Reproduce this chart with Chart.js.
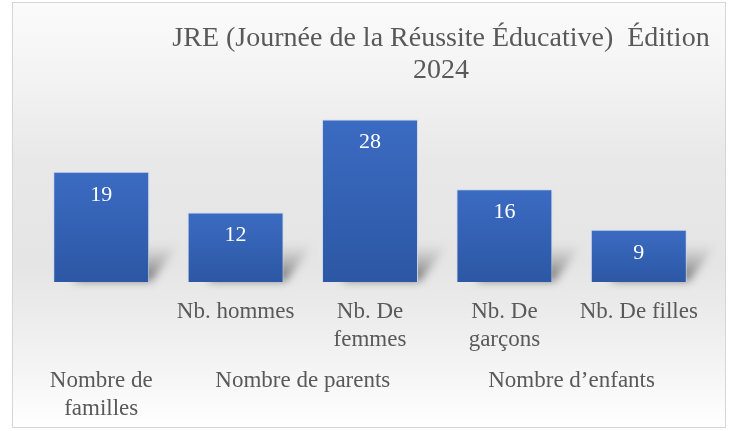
<!DOCTYPE html>
<html>
<head>
<meta charset="utf-8">
<script src="https://cdn.jsdelivr.net/npm/chart.js@4.4.1/dist/chart.umd.min.js"></script>
<style>
  html, body { margin: 0; padding: 0; background: #fff; }
  #wrap { position: relative; width: 733px; height: 431px; }
</style>
</head>
<body>
<div id="wrap"><canvas id="chart" width="733" height="431"></canvas></div>
<script>
const titleLines = ["JRE (Journée de la Réussite Éducative)  Édition", "2024"];
const categories = ["", "Nb. hommes", ["Nb. De", "femmes"], ["Nb. De", "garçons"], "Nb. De filles"];
const values = [19, 12, 28, 16, 9];
const groupLabels = [["Nombre de", "familles"], ["Nombre de parents"], ["Nombre d’enfants"]];
const groupSpans = [[0, 0], [1, 2], [3, 4]];

const SERIF = "'Liberation Serif', 'Times New Roman', serif";
const TEXT = "#595959";

function barGradient(ctx) {
  const chart = ctx.chart;
  const { ctx: c, chartArea, scales } = chart;
  if (!chartArea || ctx.dataIndex === undefined) return "#3a67bd";
  const top = scales.y.getPixelForValue(values[ctx.dataIndex]);
  const base = scales.y.getPixelForValue(0);
  const g = c.createLinearGradient(0, top, 0, base);
  g.addColorStop(0, "#3b6bc2");
  g.addColorStop(1, "#2c57a4");
  return g;
}

const backgroundPlugin = {
  id: "bg",
  beforeDraw(chart) {
    const c = chart.ctx;
    c.save();
    c.fillStyle = "#ffffff";
    c.fillRect(0, 0, chart.width, chart.height);
    const x0 = 12, y0 = 2, x1 = 726, y1 = 428;
    const g = c.createLinearGradient(0, y0, 0, y1);
    g.addColorStop(0, "#fbfbfb");
    g.addColorStop(0.12, "#f6f6f6");
    g.addColorStop(0.38, "#e8e8e8");
    g.addColorStop(0.62, "#e5e5e5");
    g.addColorStop(0.8, "#f0f0f0");
    g.addColorStop(1, "#ffffff");
    c.fillStyle = g;
    c.fillRect(x0, y0, x1 - x0, y1 - y0);
    c.strokeStyle = "#d6d6d6";
    c.lineWidth = 1;
    c.strokeRect(x0 + 0.5, y0 + 0.5, x1 - x0 - 1, y1 - y0 - 1);
    c.restore();
  }
};

// soft perspective shadow behind each bar
const shadowPlugin = {
  id: "barShadow",
  beforeDatasetsDraw(chart) {
    const c = chart.ctx;
    const meta = chart.getDatasetMeta(0);
    c.save();
    c.filter = "blur(4px)";
    meta.data.forEach((bar) => {
      const right = bar.x + bar.width / 2;
      const left = bar.x - bar.width / 2;
      const base = bar.base;
      const g = c.createLinearGradient(0, base, 0, base - 38);
      g.addColorStop(0, "rgba(50,50,50,0.7)");
      g.addColorStop(1, "rgba(120,120,120,0)");
      c.fillStyle = g;
      c.beginPath();
      c.moveTo(left + 20, base - 1);
      c.lineTo(right + 2, base - 1);
      c.lineTo(right + 30, base - 38);
      c.lineTo(left + 48, base - 38);
      c.closePath();
      c.fill();
    });
    c.restore();
  }
};

const textPlugin = {
  id: "texts",
  afterDatasetsDraw(chart) {
    const c = chart.ctx;
    const meta = chart.getDatasetMeta(0);
    c.save();
    c.fillStyle = "#ffffff";
    c.font = `22px ${SERIF}`;
    c.textAlign = "center";
    c.textBaseline = "middle";
    meta.data.forEach((bar, i) => {
      c.fillText(String(values[i]), bar.x, bar.y + 23);
    });
    c.fillStyle = TEXT;
    c.font = `28px ${SERIF}`;
    titleLines.forEach((line, i) => c.fillText(line, 441, 39 + i * 32));
    const x = chart.scales.x;
    c.font = `23px ${SERIF}`;
    groupLabels.forEach((lines, i) => {
      const [a, b] = groupSpans[i];
      const cx = (x.getPixelForValue(a) + x.getPixelForValue(b)) / 2;
      lines.forEach((line, j) => c.fillText(line, cx, 381 + j * 28));
    });
    c.restore();
  }
};

new Chart(document.getElementById("chart"), {
  type: "bar",
  data: {
    labels: categories,
    datasets: [{
      data: values,
      backgroundColor: barGradient,
      borderColor: "rgba(200,215,240,0.9)",
      borderWidth: 1,
      categoryPercentage: 1,
      barPercentage: 0.714
    }]
  },
  options: {
    responsive: false,
    animation: false,
    layout: { padding: { left: 34, right: 27, top: 108, bottom: 0 } },
    plugins: { legend: { display: false }, tooltip: { enabled: false }, title: { display: false } },
    scales: {
      y: { display: false, min: 0, max: 30 },
      x: {
        grid: { display: false, drawTicks: false },
        border: { display: false },
        ticks: { color: TEXT, font: { family: SERIF, size: 23, lineHeight: 1.22 }, padding: 16, maxRotation: 0, autoSkip: false },
        afterFit: (scale) => { scale.height = 149; }
      }
    }
  },
  plugins: [backgroundPlugin, shadowPlugin, textPlugin]
});
</script>
</body>
</html>
